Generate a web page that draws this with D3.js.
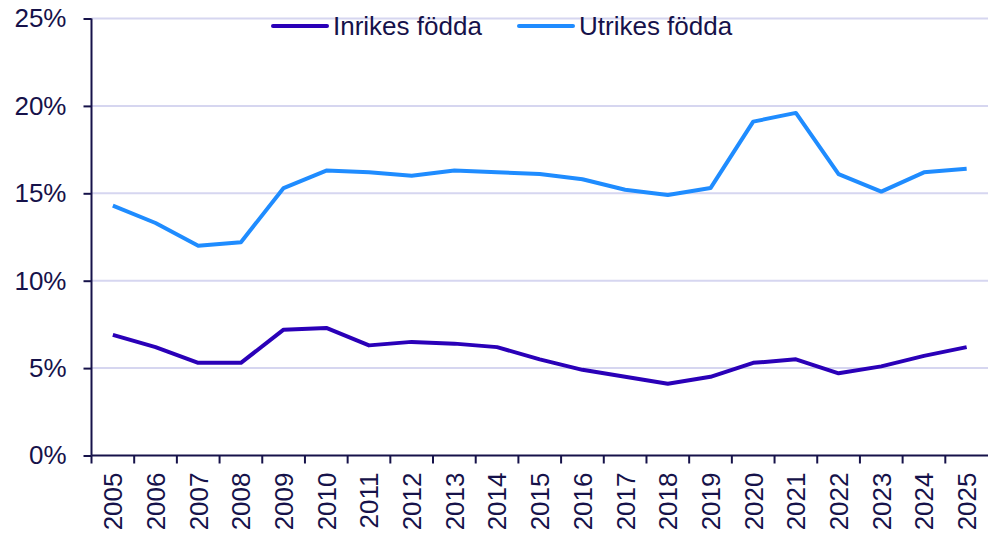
<!DOCTYPE html>
<html>
<head>
<meta charset="utf-8">
<script src="https://cdn.jsdelivr.net/npm/d3@7"></script>
<style>
  body { margin: 0; background: #fff; }
  svg { display: block; font-family: "Liberation Sans", Arial, sans-serif; }
</style>
</head>
<body>
<svg id="chart" width="988" height="533"></svg>
<script>
// chart data
var years = ["2005","2006","2007","2008","2009","2010","2011","2012","2013","2014","2015",
             "2016","2017","2018","2019","2020","2021","2022","2023","2024","2025"];
var inrikes = [6.9, 6.2, 5.3, 5.3, 7.2, 7.3, 6.3, 6.5, 6.4, 6.2, 5.5,
               4.9, 4.5, 4.1, 4.5, 5.3, 5.5, 4.7, 5.1, 5.7, 6.2];
var utrikes = [14.3, 13.3, 12.0, 12.2, 15.3, 16.3, 16.2, 16.0, 16.3, 16.2, 16.1,
               15.8, 15.2, 14.9, 15.3, 19.1, 19.6, 16.1, 15.1, 16.2, 16.4];
var yTicks = [0, 5, 10, 15, 20, 25];
var seriesNames = ["Inrikes födda", "Utrikes födda"];

var textColor = "#16124a";
var colors = ["#2a00b8", "#1f8cff"];
var fontSize = "26px";

var chart = d3.select("#chart");

var x = d3.scaleBand().domain(years).range([91.5, 988]);
var y = d3.scaleLinear().domain([0, 25]).range([455.5, 18.5]);

// gridlines
chart.append("g")
  .selectAll("line")
  .data(yTicks.filter(function(d){ return d > 0; }))
  .enter().append("line")
  .attr("x1", 91.5).attr("x2", 988)
  .attr("y1", function(d){ return y(d); })
  .attr("y2", function(d){ return y(d); })
  .style("stroke", "#d6d6f0")
  .style("stroke-width", 2);

// y axis
var yAxis = chart.append("g")
  .attr("transform", "translate(91.5,0)")
  .call(d3.axisLeft(y).tickValues(yTicks).tickSize(8).tickPadding(17)
        .tickFormat(function(d){ return d + "%"; }));
yAxis.select(".domain").style("stroke", textColor).style("stroke-width", 2)
  .attr("d", "M0," + y(25) + "V" + y(0));
yAxis.selectAll(".tick line").style("stroke", textColor).style("stroke-width", 2);
yAxis.selectAll("text").style("font-size", fontSize).style("fill", textColor)
  .style("font-family", "Liberation Sans, Arial, sans-serif");

// x axis
var xAxis = chart.append("g")
  .attr("transform", "translate(0," + y(0) + ")")
  .call(d3.axisBottom(x).tickSize(0).tickPadding(0));
xAxis.select(".domain").style("stroke", textColor).style("stroke-width", 2)
  .attr("d", "M91.5,0H988");
// tick marks on band edges
xAxis.selectAll(".edge")
  .data(years)
  .enter().append("line")
  .attr("class", "edge")
  .attr("x1", function(d){ return x(d); })
  .attr("x2", function(d){ return x(d); })
  .attr("y1", 0).attr("y2", 8)
  .style("stroke", textColor).style("stroke-width", 2);
xAxis.selectAll(".tick text")
  .attr("transform", "rotate(-90)")
  .attr("x", -17).attr("y", 0).attr("dy", "0.36em")
  .style("text-anchor", "end")
  .style("font-size", fontSize).style("fill", textColor)
  .style("font-family", "Liberation Sans, Arial, sans-serif");

// lines
var line = d3.line()
  .x(function(d, i){ return x(years[i]) + x.bandwidth() / 2; })
  .y(function(d){ return y(d); });

[inrikes, utrikes].forEach(function(s, k){
  chart.append("path")
    .datum(s)
    .attr("d", line)
    .style("fill", "none")
    .style("stroke", colors[k])
    .style("stroke-width", 4)
    .style("stroke-linejoin", "round");
});

// legend
var legendX = [273, 519];
var legend = chart.append("g").selectAll("g")
  .data(seriesNames)
  .enter().append("g")
  .attr("transform", function(d, i){ return "translate(" + legendX[i] + ",26)"; });
legend.append("line")
  .attr("x1", 0).attr("x2", 54)
  .style("stroke", function(d, i){ return colors[i]; })
  .style("stroke-width", 4)
  .style("stroke-linecap", "round");
legend.append("text")
  .attr("x", 60).attr("dy", "0.35em")
  .text(function(d){ return d; })
  .style("font-size", fontSize).style("fill", textColor);
</script>
</body>
</html>
